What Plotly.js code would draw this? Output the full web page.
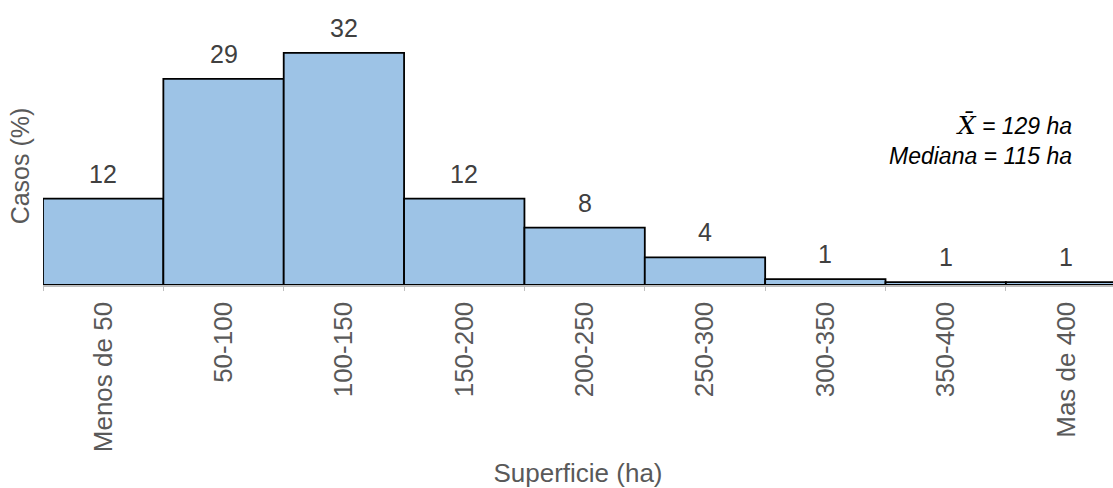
<!DOCTYPE html>
<html>
<head>
<meta charset="utf-8">
<script src="https://cdn.plot.ly/plotly-3.0.1.min.js"></script>
<style>html,body{margin:0;padding:0;background:#fff;}#chart{width:1113px;height:488px;}</style>
</head>
<body>
<div id="chart"></div>
<script>
const categories = ["Menos de 50","50-100","100-150","150-200","200-250","250-300","300-350","350-400","Mas de 400"];
const casesPct = [11.9, 28.4, 32.0, 11.9, 7.9, 3.8, 0.8, 0.4, 0.4];
const barLabels = ["12","29","32","12","8","4","1","1","1"];
const meanHa = 129;
const medianHa = 115;

const FONT = "Liberation Sans, Arial, sans-serif";

const trace = {
  type: "bar",
  x: categories,
  y: casesPct,
  marker: {color: "#9dc3e6", line: {color: "#000000", width: 1.8}},
  hoverinfo: "skip"
};

const annotations = categories.map((c, i) => ({
  x: c, y: casesPct[i], xref: "x", yref: "y",
  text: barLabels[i], showarrow: false,
  yanchor: "bottom", yshift: 9,
  font: {family: FONT, size: 25, color: "#404040"}
}));

annotations.push({
  xref: "paper", yref: "paper", x: 0.9636, y: 0.61,
  xanchor: "right", yanchor: "middle", align: "right",
  showarrow: false,
  text: '<i><span style="font-family:DejaVu Serif;font-size:25px">X\u0304</span> = ' + meanHa + ' ha</i><br><i>Mediana = ' + medianHa + ' ha</i>',
  font: {family: FONT, size: 23, color: "#000000"}
});

const layout = {
  width: 1113, height: 488,
  margin: {l: 43, r: 0, t: 47, b: 203, pad: 0},
  paper_bgcolor: "#ffffff", plot_bgcolor: "#ffffff",
  bargap: 0,
  showlegend: false,
  font: {family: FONT},
  xaxis: {
    type: "category",
    range: [-0.5, 8.39],
    showline: true, linecolor: "#bfbfbf", linewidth: 1.5,
    ticks: "outside", tickson: "boundaries", ticklen: 4, tickcolor: "#bfbfbf", tickwidth: 1,
    ticklabelstandoff: 5,
    tickangle: -90,
    tickfont: {family: FONT, size: 26, color: "#595959"},
    showgrid: false, zeroline: false, automargin: false,
    title: {text: "Superficie (ha)", font: {family: FONT, size: 26, color: "#595959"}, standoff: 12}
  },
  yaxis: {
    range: [0, 32.8],
    showticklabels: false, ticks: "", showgrid: false, zeroline: false, showline: false,
    automargin: false,
    title: {text: "Casos (%)", font: {family: FONT, size: 25, color: "#595959"}, standoff: 5}
  },
  annotations: annotations
};

Plotly.newPlot("chart", [trace], layout, {displayModeBar: false, staticPlot: true});
</script>
</body>
</html>
